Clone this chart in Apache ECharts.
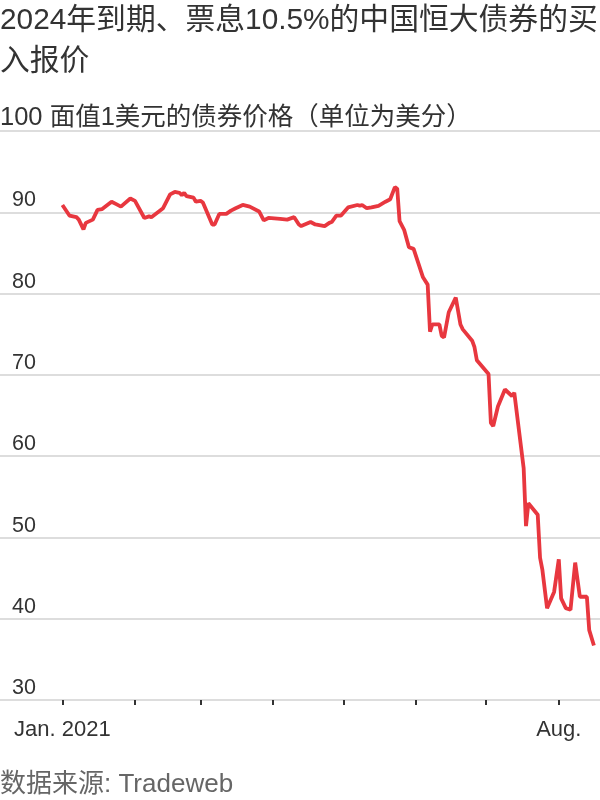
<!DOCTYPE html>
<html>
<head>
<meta charset="utf-8">
<script src="https://cdn.jsdelivr.net/npm/echarts@6/dist/echarts.min.js"></script>
<style>html,body{margin:0;padding:0;background:#fff}#c{width:600px;height:800px}</style>
</head>
<body>
<div id="c"></div>
<script>
const titleText = '2024年到期、票息10.5%的中国恒大债券的买\n入报价';
const unitText = '面值1美元的债券价格（单位为美分）';
const sourceText = '数据来源: Tradeweb';

const dates = [
 '2021-01-01','2021-01-04','2021-01-07','2021-01-08','2021-01-10','2021-01-11','2021-01-14','2021-01-16','2021-01-18','2021-01-22',
 '2021-01-24','2021-01-26','2021-01-30','2021-02-01','2021-02-05','2021-02-07','2021-02-08','2021-02-13','2021-02-16','2021-02-18',
 '2021-02-20','2021-02-21','2021-02-22','2021-02-23','2021-02-26','2021-02-27','2021-03-01','2021-03-02','2021-03-06','2021-03-07',
 '2021-03-09','2021-03-12','2021-03-14','2021-03-16','2021-03-19','2021-03-22','2021-03-26','2021-03-28','2021-03-30','2021-04-04',
 '2021-04-07','2021-04-10','2021-04-12','2021-04-13','2021-04-17','2021-04-19','2021-04-23','2021-04-25','2021-04-26','2021-04-28',
 '2021-04-30','2021-05-03','2021-05-07','2021-05-08','2021-05-09','2021-05-11','2021-05-13','2021-05-16','2021-05-19','2021-05-21',
 '2021-05-23','2021-05-24','2021-05-25','2021-05-27','2021-05-29','2021-05-31','2021-06-04','2021-06-06','2021-06-07','2021-06-08',
 '2021-06-11','2021-06-12','2021-06-13','2021-06-15','2021-06-18','2021-06-20','2021-06-21','2021-06-25','2021-06-26','2021-06-27',
 '2021-07-02','2021-07-03','2021-07-04','2021-07-06','2021-07-09','2021-07-12','2021-07-13','2021-07-17','2021-07-18','2021-07-19',
 '2021-07-23','2021-07-24','2021-07-25','2021-07-27','2021-07-30','2021-08-01','2021-08-02','2021-08-04','2021-08-06','2021-08-08',
 '2021-08-10','2021-08-13','2021-08-14','2021-08-16'
];
const prices = [
 90.9,89.6,89.4,89.1,87.9,88.7,89.1,90.3,90.4,91.3,
 91.0,90.7,91.7,91.4,89.3,89.5,89.4,90.5,92.2,92.5,
 92.4,92.1,92.4,92.0,91.8,91.3,91.4,91.2,88.5,88.5,
 89.8,89.8,90.2,90.5,90.9,90.7,90.1,89.0,89.3,89.2,
 89.1,89.4,88.5,88.3,88.8,88.5,88.3,88.7,88.8,89.6,
 89.6,90.6,90.9,90.8,90.9,90.5,90.6,90.8,91.3,91.6,
 93.1,92.9,88.9,87.8,85.7,85.5,82.0,81.1,75.3,76.2,
 76.2,74.8,74.6,77.7,79.5,76.2,75.6,74.2,73.4,71.8,
 70.1,64.1,63.7,66.1,68.2,67.4,67.8,58.5,51.4,54.2,
 52.8,47.5,46.0,41.3,43.3,47.3,42.5,41.3,41.1,46.9,
 42.7,42.7,38.6,36.7
];
const tickDates = ['2021-01-01','2021-02-01','2021-03-01','2021-04-01','2021-05-01','2021-06-01','2021-07-01','2021-08-01'];
const labelDates = ['2021-01-01','2021-08-01'];
const labelTexts = ['Jan. 2021','Aug.'];
const axisStart = '2020-12-06';
const axisEnd = '2021-08-18';
const yTicks = [30, 40, 50, 60, 70, 80, 90, 100];

const DAY = 86400000;
const origin = Date.parse('2021-01-01');
const toDay = s => (Date.parse(s) - origin) / DAY;

const chart = echarts.init(document.getElementById('c'), null, {renderer: 'canvas'});
const latin = "'Liberation Sans', 'Noto Sans CJK SC', sans-serif";
chart.setOption({
  animation: false,
  backgroundColor: '#fff',
  title: [
    {text: titleText, left: 0, top: 0, padding: 0,
     textStyle: {fontSize: 29.8, fontWeight: 'normal', color: '#333', lineHeight: 41, fontFamily: latin}},
    {text: sourceText, left: 0, top: 772, padding: 0,
     textStyle: {fontSize: 26, fontWeight: 'normal', color: '#666', fontFamily: latin}}
  ],
  grid: {left: 0, right: 0, top: 131, bottom: 100, outerBoundsMode: 'none', containLabel: false},
  xAxis: {
    type: 'value',
    min: toDay(axisStart) - 0.65,
    max: toDay(axisEnd) + 0.6,
    splitLine: {show: false},
    axisLine: {show: true, lineStyle: {color: '#dddddd', width: 2}},
    axisTick: {show: true, customValues: tickDates.map(toDay), length: 5, lineStyle: {color: '#333', width: 2}},
    axisLabel: {
      customValues: labelDates.map(toDay),
      formatter: v => { const i = labelDates.map(toDay).indexOf(v); return i >= 0 ? labelTexts[i] : ''; },
      fontSize: 22, color: '#333', margin: 19, fontFamily: latin
    }
  },
  yAxis: {
    type: 'value',
    min: 30, max: 100, interval: 10,
    axisLine: {show: false},
    axisTick: {show: false},
    splitLine: {lineStyle: {color: '#dddddd', width: 2}},
    axisLabel: {
      inside: true, margin: 0, verticalAlign: 'bottom', align: 'left',
      formatter: v => v === yTicks[yTicks.length - 1] ? '{t|' + v + ' ' + unitText + '}' : '{n|' + v + '}',
      rich: {
        n: {fontSize: 21.5, color: '#333', padding: [0, 0, 1, 12], fontFamily: latin},
        t: {fontSize: 25.5, color: '#333', padding: [0, 0, 0, 0], fontFamily: latin}
      }
    }
  },
  series: [{
    type: 'line',
    data: dates.map((d, i) => [toDay(d), prices[i]]),
    showSymbol: false,
    lineStyle: {color: '#e8373f', width: 3.8},
    itemStyle: {color: '#e8373f'}
  }]
});
</script>
</body>
</html>
